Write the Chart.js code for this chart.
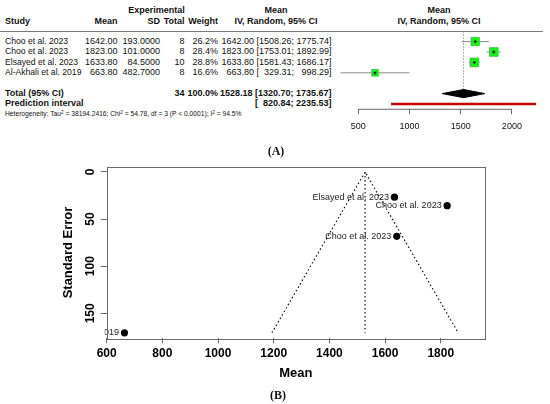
<!DOCTYPE html>
<html><head><meta charset="utf-8">
<script src="https://cdn.jsdelivr.net/npm/chart.js@4.4.1/dist/chart.umd.min.js"></script>
<style>
html,body{margin:0;padding:0;background:#fff;}
body{width:550px;height:404px;position:relative;overflow:hidden;font-family:"Liberation Sans",Arial,Helvetica,sans-serif;color:#111;}
.t{position:absolute;white-space:pre;}
.b{font-weight:bold;}
.t sup{font-size:70%;vertical-align:0;position:relative;top:-0.45em;line-height:0;}
canvas{position:absolute;}
.lbl{position:absolute;font-family:"Liberation Serif","Times New Roman",serif;font-weight:bold;font-size:12px;line-height:14px;transform:translateX(-50%);}
</style></head><body>
<div id="txt"></div>
<div style="position:absolute;left:0;top:31px;width:543px;height:1px;background:#7a7a7a"></div>
<canvas id="forest" width="250" height="135" style="left:300px;top:0px;width:250px;height:135px"></canvas>
<canvas id="funnel" width="550" height="250" style="left:0px;top:140px;width:550px;height:250px"></canvas>
<div class="lbl" style="left:276px;top:144px">(A)</div>
<div class="lbl" style="left:278px;top:388px">(B)</div>
<script>
// ---------- data ----------
const studies = ["Choo et al. 2023", "Choo et al. 2023", "Elsayed et al. 2023", "Al-Akhali et al. 2019"];
const means = [1642.00, 1823.00, 1633.80, 663.80];
const sds = [193.0, 101.0, 84.5, 482.7];
const totals = [8, 8, 10, 8];
const weights = [26.2, 28.4, 28.8, 16.6];
const ciLower = [1508.26, 1753.01, 1581.43, 329.31];
const ciUpper = [1775.74, 1892.99, 1686.17, 998.29];
const pooledMean = 1528.18;
const pooledLower = 1320.70;
const pooledUpper = 1735.67;
const pooledTotal = 34;
const pooledWeight = 100.0;
const predLower = 820.84;
const predUpper = 2235.53;
const hetTau2 = "38194.2416";
const hetChi2 = "54.78";
const hetDf = 3;
const hetP = "< 0.0001";
const hetI2 = "94.5%";
const forestTicks = [500, 1000, 1500, 2000];
const standardErrors = [68.24, 35.71, 26.72, 170.66];
const funnelMaxSE = 170.66;
const funnelLeftX = 1193.7;
const funnelRightX = 1862.7;
const funnelTicksX = [600, 800, 1000, 1200, 1400, 1600, 1800];
const funnelTicksY = [0, 50, 100, 150];

// ---------- table text ----------
const txt = document.getElementById('txt');
function put(text, x, yc, align, size, bold, html) {
  const d = document.createElement('div');
  d.className = 't' + (bold ? ' b' : '');
  const lh = Math.round(size * 1.25);
  d.style.fontSize = size + 'px';
  d.style.lineHeight = lh + 'px';
  d.style.left = x + 'px';
  d.style.top = (yc - lh / 2) + 'px';
  if (align === 'right') d.style.transform = 'translateX(-100%)';
  else if (align === 'center') d.style.transform = 'translateX(-50%)';
  if (html) d.innerHTML = text; else d.textContent = text;
  txt.appendChild(d);
}
const FS = 9, FSN = 8.6;
const colStudy = 5, colMean = 117.5, colSD = 160, colTotal = 184.5, colWeight = 218, colCI = 331.5;
const yH1 = 10, yH2 = 21;
put("Experimental", 156.5, yH1, 'center', FS, true);
put("Study", colStudy, yH2, 'left', FS, true);
put("Mean", colMean, yH2, 'right', FS, true);
put("SD", colSD, yH2, 'right', FS, true);
put("Total", colTotal, yH2, 'right', FS, true);
put("Weight", colWeight, yH2, 'right', FS, true);
put("Mean", 276, yH1, 'center', FS, true);
put("IV, Random, 95% CI", 276, yH2, 'center', FS, true);
put("Mean", 439, yH1, 'center', FS, true);
put("IV, Random, 95% CI", 439, yH2, 'center', FS, true);

const FIG = "\u2007";
function pad(s, w) { while (s.length < w) s = FIG + s; return s; }
function ciString(m, lo, hi) {
  return m.toFixed(2) + " [" + pad(lo.toFixed(2), 7) + "; " + pad(hi.toFixed(2), 7) + "]";
}
const rowY = [41.5, 51.9, 62.3, 72.7];
studies.forEach((s, i) => {
  const y = rowY[i];
  put(s, colStudy, y, 'left', FSN, false);
  put(means[i].toFixed(2), colMean, y, 'right', FS, false);
  put(sds[i].toFixed(4), colSD, y, 'right', FS, false);
  put(String(totals[i]), colTotal, y, 'right', FS, false);
  put(weights[i].toFixed(1) + "%", colWeight, y, 'right', FS, false);
  put(ciString(means[i], ciLower[i], ciUpper[i]), colCI, y, 'right', FS, false);
});
put("Total (95% CI)", colStudy, 93.4, 'left', FS, true);
put(String(pooledTotal), colTotal, 93.4, 'right', FS, true);
put(pooledWeight.toFixed(1) + "%", colWeight, 93.4, 'right', FS, true);
put(ciString(pooledMean, pooledLower, pooledUpper), colCI, 93.4, 'right', FS, true);
put("Prediction interval", colStudy, 103.8, 'left', FS, true);
put("[" + pad(predLower.toFixed(2), 7) + "; " + pad(predUpper.toFixed(2), 7) + "]", colCI, 103.8, 'right', FS, true);
put("Heterogeneity: Tau<sup>2</sup> = " + hetTau2 + "; Chi<sup>2</sup> = " + hetChi2 + ", df = " + hetDf +
    " (P " + hetP.replace("<", "&lt;") + "); I<sup>2</sup> = " + hetI2, colStudy, 114.3, 'left', 6.7, false, true);

// ---------- forest plot graphics ----------
const forestYMax = 7.51;
const diamondHalf = 0.39;
const sq = means.map((m, i) => ({x: m, y: i + 1}));
const lineDs = (pts, color, width, extra) => Object.assign({type: 'line', data: pts, borderColor: color, borderWidth: width, pointRadius: 0, tension: 0, fill: false}, extra || {});
const forestDatasets = [
  {label: 'inner', data: sq, pointStyle: 'cross', pointRadius: 1.5, borderColor: '#000', backgroundColor: '#000', borderWidth: 1},
  {label: 'squares', data: sq, pointStyle: 'rect',
   pointRadius: ctx => 1.15 * Math.sqrt(weights[ctx.dataIndex]),
   backgroundColor: '#18ee18', borderColor: '#33c533', borderWidth: 0.8},
  lineDs([{x: pooledLower, y: 6}, {x: pooledMean, y: 6 - diamondHalf}, {x: pooledUpper, y: 6}, {x: pooledMean, y: 6 + diamondHalf}, {x: pooledLower, y: 6}],
    '#000', 1, {fill: 'shape', backgroundColor: '#000'}),
  ...means.map((m, i) => lineDs([{x: ciLower[i], y: i + 1}, {x: ciUpper[i], y: i + 1}], '#8a8a8a', 1)),
  lineDs([{x: predLower, y: 7}, {x: predUpper, y: 7}], '#c40000', 2.6),
  lineDs([{x: pooledMean, y: 0}, {x: pooledMean, y: 6}], '#9a9a9a', 1, {borderDash: [1.5, 1.5]}),
  lineDs([{x: forestTicks[0], y: forestYMax}, {x: forestTicks[forestTicks.length - 1], y: forestYMax}], '#666', 1, {clip: false})
];
new Chart(document.getElementById('forest'), {
  type: 'scatter',
  data: {datasets: forestDatasets},
  options: {
    responsive: false, animation: false, devicePixelRatio: window.devicePixelRatio || 1,
    layout: {padding: {top: 31.2, left: 0, right: 0, bottom: 0}},
    plugins: {legend: {display: false}, tooltip: {enabled: false}},
    scales: {
      x: {type: 'linear', min: 0, max: 2304,
        afterBuildTicks: s => { s.ticks = forestTicks.map(v => ({value: v})); },
        afterFit: s => { s.height = 25.7; },
        grid: {drawOnChartArea: false, drawTicks: true, tickLength: 5, color: '#666', lineWidth: 1},
        border: {display: false},
        ticks: {autoSkip: false, maxRotation: 0, padding: 7, color: '#111',
          font: {family: 'Liberation Sans', size: 9}, callback: v => String(v)}},
      y: {type: 'linear', min: 0, max: forestYMax, reverse: true, display: false}
    }
  }
});

// ---------- funnel plot ----------
const boxPlugin = {
  id: 'box',
  afterDraw(chart) {
    const a = chart.chartArea, c = chart.ctx;
    c.save(); c.strokeStyle = '#6a6a6a'; c.lineWidth = 1;
    c.strokeRect(Math.round(a.left) + 0.5, Math.round(a.top) + 0.5, Math.round(a.right - a.left), Math.round(a.bottom - a.top));
    c.restore();
  }
};
const labelPlugin = {
  id: 'studyLabels',
  afterDatasetsDraw(chart) {
    const a = chart.chartArea, c = chart.ctx, xs = chart.scales.x, ys = chart.scales.y;
    c.save();
    c.beginPath(); c.rect(a.left - 2, a.top, a.right - a.left + 2, a.bottom - a.top); c.clip();
    c.font = '9px "Liberation Sans", Arial, sans-serif';
    c.fillStyle = '#222'; c.textAlign = 'right'; c.textBaseline = 'middle';
    studies.forEach((s, i) => {
      c.fillText(s, xs.getPixelForValue(means[i]) - 5.5, ys.getPixelForValue(standardErrors[i]));
    });
    c.restore();
  }
};
new Chart(document.getElementById('funnel'), {
  type: 'scatter',
  data: {datasets: [
    {label: 'studies', data: means.map((m, i) => ({x: m, y: standardErrors[i]})), pointRadius: 3.6,
     backgroundColor: '#000', borderColor: '#000', borderWidth: 0},
    lineDs([{x: funnelLeftX, y: funnelMaxSE}, {x: pooledMean, y: 0}, {x: funnelRightX, y: funnelMaxSE}], '#111', 1.2, {borderDash: [1.5, 2.5]}),
    lineDs([{x: pooledMean, y: 0}, {x: pooledMean, y: funnelMaxSE}], '#111', 1.2, {borderDash: [1.5, 2.5]})
  ]},
  options: {
    responsive: false, animation: false, devicePixelRatio: window.devicePixelRatio || 1,
    layout: {padding: {left: 56.2, right: 65, top: 26.7, bottom: 5}},
    plugins: {legend: {display: false}, tooltip: {enabled: false}},
    scales: {
      x: {type: 'linear', min: 600, max: 1959,
        afterBuildTicks: s => { s.ticks = funnelTicksX.map(v => ({value: v})); },
        afterFit: s => { s.height = 46.7; },
        grid: {drawOnChartArea: false, drawTicks: true, tickLength: 5, color: '#6a6a6a'},
        border: {display: false},
        ticks: {autoSkip: false, maxRotation: 0, padding: 3.4, color: '#000',
          font: {family: 'Liberation Sans', size: 12, weight: 'bold'}, callback: v => String(v)},
        title: {display: true, text: 'Mean', color: '#000', padding: 4,
          font: {family: 'Liberation Sans', size: 13, weight: 'bold'}}},
      y: {type: 'linear', min: -5.6, max: 176.5, reverse: true,
        afterBuildTicks: s => { s.ticks = funnelTicksY.map(v => ({value: v})); },
        afterFit: s => { s.width = 50.5; },
        grid: {drawOnChartArea: false, drawTicks: true, tickLength: 6, color: '#6a6a6a'},
        border: {display: false},
        ticks: {autoSkip: false, minRotation: 90, maxRotation: 90, crossAlign: 'center', padding: 0, color: '#000',
          font: {family: 'Liberation Sans', size: 12, weight: 'bold'}, callback: v => String(v)},
        title: {display: true, text: 'Standard Error', color: '#000', padding: 4,
          font: {family: 'Liberation Sans', size: 13, weight: 'bold'}}}
    }
  },
  plugins: [boxPlugin, labelPlugin]
});
</script>
</body></html>
